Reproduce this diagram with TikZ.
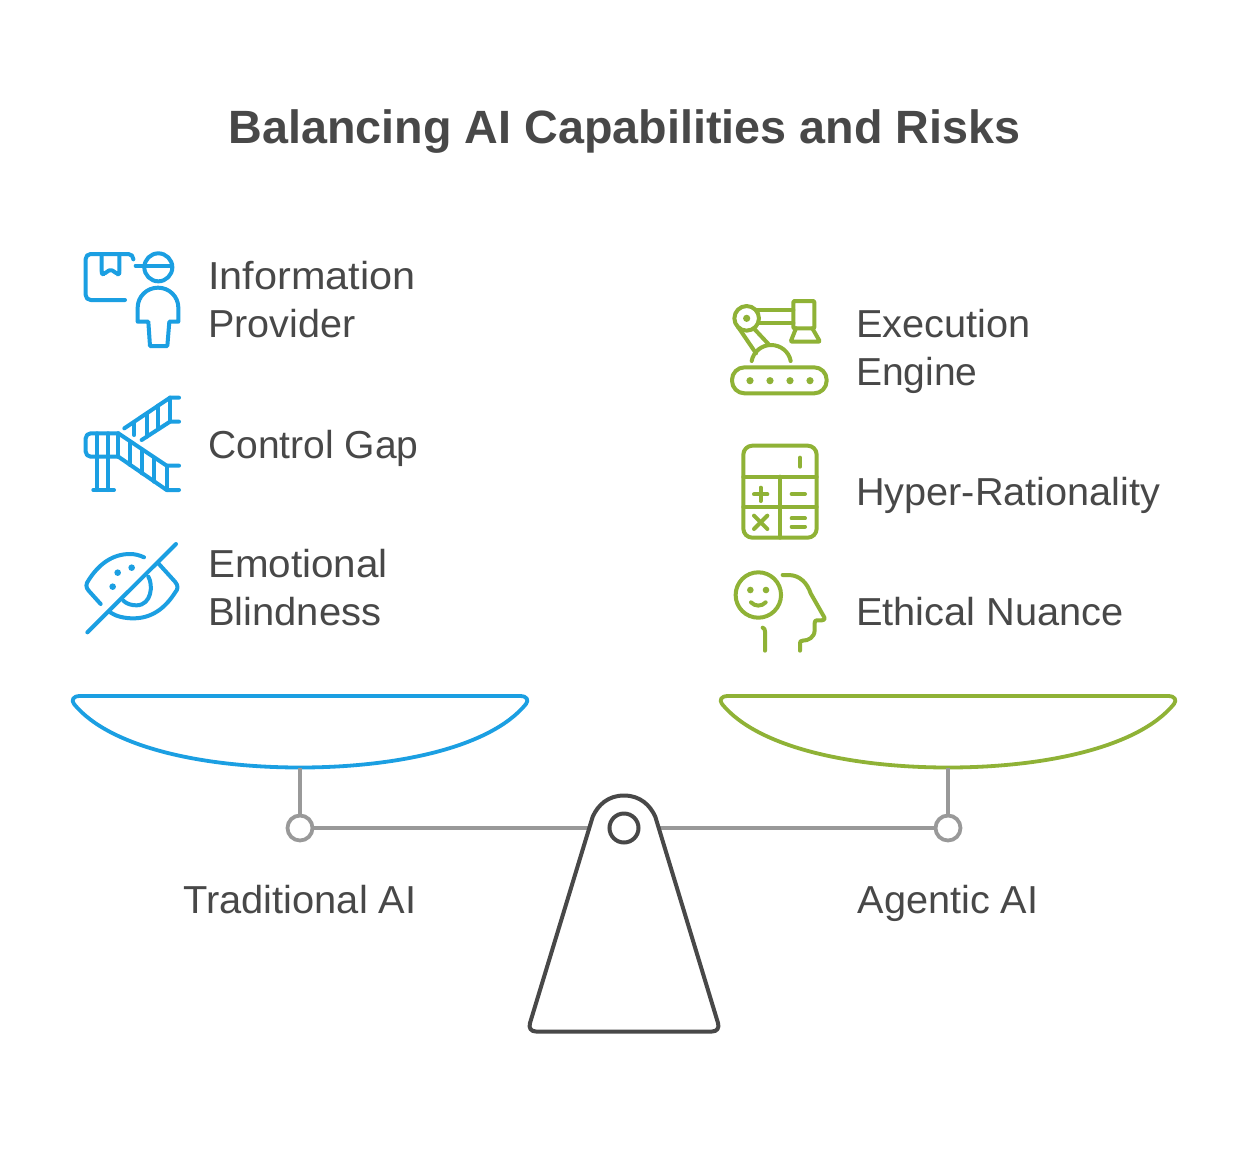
\documentclass[tikz,border=0pt]{standalone}
\usepackage{fontspec}
\setmainfont{Liberation Sans}
\definecolor{ink}{HTML}{484848}
\definecolor{bluec}{HTML}{1B9FE2}
\definecolor{greenc}{HTML}{8FB236}
\definecolor{beamc}{HTML}{999999}
\newcommand{\wfit}[2]{\scalebox{#1}[1]{#2}}
\tikzset{
  lab/.style={text=ink,font=\fontsize{39}{48}\selectfont,align=left,anchor=west,inner sep=0pt},
  capt/.style={text=ink,font=\fontsize{39}{48}\selectfont,anchor=base,inner sep=0pt},
  ttl/.style={text=ink,font=\fontsize{46.7}{56}\selectfont\bfseries,anchor=base,inner sep=0pt},
  ic/.style={line width=4pt,line cap=round,line join=round},
  icb/.style={ic,draw=bluec},
  icg/.style={ic,draw=greenc},
  zoomb/.style={x=0.33333pt,y=-0.33333pt},
  beam/.style={draw=beamc,line width=3.8pt},
  pivot/.style={circle,draw=beamc,line width=3.8pt,fill=white,minimum size=25pt,inner sep=0pt},
  pan/.style={line width=3.8pt,line join=round,fill=white},
  stand/.style={draw=ink,line width=4pt,fill=white,line join=round},
}
\begin{document}
\begin{tikzpicture}[x=1pt,y=-1pt]
\useasboundingbox[fill=white] (0,0) rectangle (1248,1165);
\node[ttl] (title) at (624.5,143) {Balancing AI Capabilities and Risks};

% labels
\node[lab] (l1) at (208,300) {\wfit{1.062}{Information}\\\wfit{1.014}{Provider}};
\node[lab] (l2) at (208,448) {Control Gap};
\node[lab] (l3) at (208,588) {\wfit{1.035}{Emotional}\\\wfit{1.024}{Blindness}};
\node[lab] (r1) at (856,351) {\wfit{1.018}{Execution}\\Engine};
\node[lab] (r2) at (856,495.5) {\wfit{1.017}{Hyper-Rationality}};
\node[lab] (r3) at (856,612) {\wfit{1.02}{Ethical Nuance}};
\node[capt] (cl) at (300,913) {\wfit{1.022}{Traditional AI}};
\node[capt] (cr) at (948,913) {\wfit{1.017}{Agentic AI}};

% pans
\coordinate (lbot) at (300,767.5);
\coordinate (rbot) at (948,767.5);
\draw[pan,draw=bluec] (80,696) -- (520,696) .. controls (527,696) and (529,700) .. (526,704)
  .. controls (490,748) and (395,767.5) .. (lbot)
  .. controls (205,767.5) and (110,748) .. (74,704)
  .. controls (71,700) and (73,696) .. cycle;
\draw[pan,draw=greenc] (728,696) -- (1168,696) .. controls (1175,696) and (1177,700) .. (1174,704)
  .. controls (1138,748) and (1043,767.5) .. (rbot)
  .. controls (853,767.5) and (758,748) .. (722,704)
  .. controls (719,700) and (721,696) .. cycle;

% beam
\node[circle,minimum size=29pt,inner sep=0pt] (hole) at (624,828) {};
\node[pivot] (lp) at (300,828) {};
\node[pivot] (rp) at (948,828) {};
\draw[beam] (lbot) -- (lp);
\draw[beam] (rbot) -- (rp);
\draw[beam] (lp) -- (hole);
\draw[beam] (rp) -- (hole);

% stand
\draw[stand] (536,1031.5) -- (712,1031.5)
  .. controls (717,1031.5) and (719.5,1028) .. (718,1023)
  -- (655.3,816.7)
  .. controls (650,805) and (640,795.5) .. (624,795.5)
  .. controls (608,795.5) and (598,805) .. (592.7,816.7)
  -- (530,1023)
  .. controls (528.5,1028) and (531,1031.5) .. cycle;
\node[circle,draw=ink,line width=4pt,fill=white,minimum size=29pt,inner sep=0pt] (holec) at (624,828) {};

% icon 1: information provider
\begin{scope}[shift={(70pt,-240pt)},zoomb]
\draw[icb,rounded corners=5pt] (190,58) -- (190,42) -- (47,42) -- (47,180) -- (165,180);
\draw[icb,rounded corners=2pt] (95,42) -- (95,100) -- (100,103) -- (122,88) -- (144,103) -- (148,100) -- (148,42);
\draw[icb] (265,82) circle[radius=14pt];
\draw[icb] (197,77) -- (305,77);
\draw[icb] (235,245) -- (203,245) -- (203,203) .. controls (203,170) and (230,143) .. (264,143) .. controls (298,143) and (325,170) .. (325,203) -- (325,245) -- (298,245) -- (292,318) -- (240,318) -- cycle;
\end{scope}

% icon 2: control gap
\begin{scope}[shift={(70pt,-385pt)},zoomb]
\draw[icb] (163,130) -- (300,38) -- (327,38);
\draw[icb] (215,165) -- (300,110) -- (327,110);
\draw[icb] (193,112) -- (193,150);
\draw[icb] (230,88) -- (230,155);
\draw[icb] (265,62) -- (265,132);
\draw[icb] (300,38) -- (300,110);
\draw[icb,rounded corners=5pt] (145,145) -- (47,145) -- (47,215) -- (145,215);
\draw[icb] (145,145) -- (290,242) -- (327,242);
\draw[icb] (145,215) -- (290,315) -- (327,315);
\draw[icb] (82,145) -- (82,315);
\draw[icb] (115,145) -- (115,315);
\draw[icb] (145,145) -- (145,215);
\draw[icb] (180,170) -- (180,240);
\draw[icb] (215,193) -- (215,265);
\draw[icb] (252,218) -- (252,290);
\draw[icb] (290,242) -- (290,315);
\draw[icb] (70,315) -- (132,315);
\end{scope}

% icon 3: emotional blindness
\begin{scope}[shift={(70pt,-530pt)},zoomb]
\draw[icb] (52,307) -- (318,42);
\draw[icb] (92,222) -- (56,182) .. controls (47,172) and (47,162) .. (56,150) .. controls (85,105) and (125,72) .. (180,72) .. controls (195,72) and (210,76) .. (222,82);
\draw[icb] (265,100) -- (315,155) .. controls (325,167) and (325,177) .. (315,188) .. controls (285,235) and (245,265) .. (190,265) .. controls (165,265) and (140,260) .. (122,248);
\draw[icb] (235,140) .. controls (250,165) and (245,225) .. (200,226) .. controls (185,226) and (170,222) .. (160,212);
\fill[bluec] (143,128) circle[radius=3.3pt] (185,113) circle[radius=3.3pt] (128,170) circle[radius=3.3pt];
\end{scope}

% icon 4: execution engine
\begin{scope}[shift={(720pt,-290pt)},zoomb]
\draw[icg] (80,85) circle[radius=12.3pt];
\fill[greenc] (80,85) circle[radius=3.6pt];
\draw[icg] (112,60) -- (220,60);
\draw[icg] (116,100) -- (220,100);
\draw[icg,rounded corners=1pt] (220,33) -- (283,33) -- (283,115) -- (220,115) -- cycle;
\draw[icg,rounded corners=1pt] (228,115) -- (212,155) -- (300,155) -- (277,115);
\draw[icg] (55,112) -- (108,190);
\draw[icg] (104,118) -- (148,165);
\draw[icg] (95,213) .. controls (100,185) and (125,165) .. (153,165) .. controls (182,165) and (207,185) .. (212,213);
\draw[icg,rounded corners=12.5pt] (36,232) rectangle (320,310);
\fill[greenc] (90,272) circle[radius=3.6pt] (150,272) circle[radius=3.6pt] (210,272) circle[radius=3.6pt] (270,272) circle[radius=3.6pt];
\end{scope}

% icon 5: hyper-rationality
\begin{scope}[shift={(720pt,-435pt)},zoomb]
\draw[icg,rounded corners=9pt] (70,32) rectangle (290,308);
\draw[icg] (70,125) -- (290,125);
\draw[icg] (70,215) -- (290,215);
\draw[icg] (180,125) -- (180,308);
\draw[icg] (240,68) -- (240,95);
\draw[icg] (102,178) -- (142,178);
\draw[icg] (122,158) -- (122,198);
\draw[icg] (215,177) -- (255,177);
\draw[icg] (102,242) -- (142,282);
\draw[icg] (142,242) -- (102,282);
\draw[icg] (215,250) -- (255,250);
\draw[icg] (215,275) -- (255,275);
\end{scope}

% icon 6: ethical nuance
\begin{scope}[shift={(720pt,-560pt)},zoomb]
\draw[icg] (115,105) circle[radius=22.7pt];
\fill[greenc] (91,90) circle[radius=3.3pt] (138,90) circle[radius=3.3pt];
\draw[icg] (93,127) .. controls (105,140) and (125,140) .. (137,127);
\draw[icg] (128,203) .. controls (133,205) and (135,208) .. (135,214) -- (135,272);
\draw[icg] (188,45) -- (205,45) .. controls (240,45) and (262,70) .. (272,100) -- (313,172) .. controls (316,178) and (312,181) .. (305,181) -- (290,181) .. controls (285,181) and (284,185) .. (284,190) -- (284,210) .. controls (284,232) and (265,242) .. (248,242) .. controls (242,242) and (240,245) .. (240,250) -- (240,272);
\end{scope}
\end{tikzpicture}
\end{document}
